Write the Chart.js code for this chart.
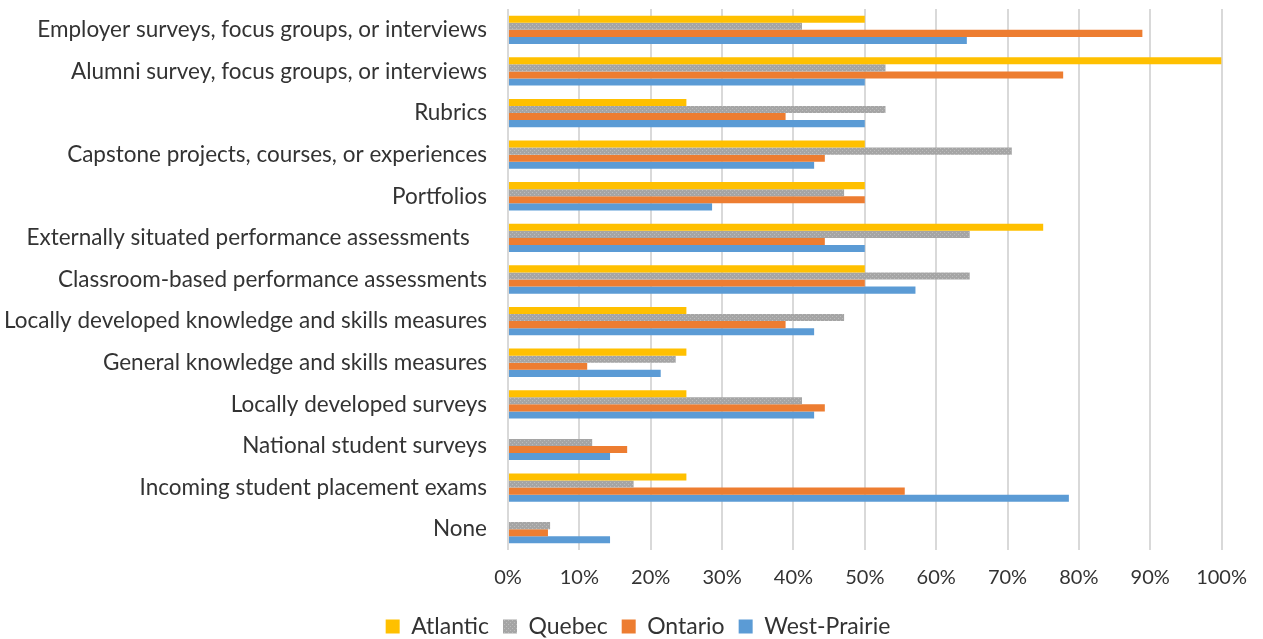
<!DOCTYPE html>
<html>
<head>
<meta charset="utf-8">
<script src="https://cdn.jsdelivr.net/npm/chart.js@4"></script>
<style>
  body { margin: 0; background: #fff; }
  #wrap { width: 1263px; height: 639px; }
</style>
</head>
<body>
<div id="wrap"><canvas id="myChart"></canvas></div>
<script>
const labels = [
  'Employer surveys, focus groups, or interviews',
  'Alumni survey, focus groups, or interviews',
  'Rubrics',
  'Capstone projects, courses, or experiences',
  'Portfolios',
  'Externally situated performance assessments   ',
  'Classroom-based performance assessments',
  'Locally developed knowledge and skills measures',
  'General knowledge and skills measures',
  'Locally developed surveys',
  'National student surveys',
  'Incoming student placement exams',
  'None',
];

const atlantic    = [50, 100, 25, 50, 50, 75, 50, 25, 25, 25, 0, 25, 0];
const quebec      = [41.2, 52.9, 52.9, 70.6, 47.1, 64.7, 64.7, 47.1, 23.5, 41.2, 11.8, 17.6, 5.9];
const ontario     = [88.9, 77.8, 38.9, 44.4, 50, 44.4, 50, 38.9, 11.1, 44.4, 16.7, 55.6, 5.6];
const westPrairie = [64.3, 50, 50, 42.9, 28.6, 50, 57.1, 42.9, 21.4, 42.9, 14.3, 78.6, 14.3];

const fontFamily = "Lato, 'Liberation Sans', sans-serif";
const textColor = '#333333';

// light dotted texture like the grey series in the original
function dotPattern() {
  const c = document.createElement('canvas');
  c.width = 4; c.height = 4;
  const ctx = c.getContext('2d');
  ctx.fillStyle = '#A5A5A5';
  ctx.fillRect(0, 0, 4, 4);
  ctx.fillStyle = '#BDBDBD';
  ctx.fillRect(0, 0, 1, 1);
  ctx.fillRect(2, 2, 1, 1);
  return ctx.createPattern(c, 'repeat');
}

const data = {
  labels: labels,
  datasets: [
    { label: 'Atlantic', data: atlantic, backgroundColor: '#FFC000' },
    { label: 'Quebec', data: quebec, backgroundColor: dotPattern() },
    { label: 'Ontario', data: ontario, backgroundColor: '#ED7D31' },
    { label: 'West-Prairie', data: westPrairie, backgroundColor: '#5B9BD5' },
  ]
};

// nudge the legend so it sits centred under the whole picture
const legendShift = {
  id: 'legendShift',
  afterLayout(chart) {
    const lg = chart.legend;
    lg.left += 25;
    lg.right += 25;
  }
};

const config = {
  type: 'bar',
  data: data,
  options: {
    indexAxis: 'y',
    responsive: true,
    maintainAspectRatio: false,
    animation: false,
    datasets: {
      bar: { barPercentage: 1.0, categoryPercentage: 0.68 }
    },
    layout: { padding: { top: 9, right: 41, left: 4, bottom: -9 } },
    scales: {
      x: {
        min: 0,
        max: 100,
        afterFit: (axis) => { axis.height = 51; },
        ticks: {
          stepSize: 10,
          color: textColor,
          padding: 16,
          font: { family: fontFamily, size: 20 },
          callback: (v) => v + '%'
        },
        grid: { color: '#D9D9D9', lineWidth: 2, drawTicks: false },
        border: { display: false }
      },
      y: {
        afterFit: (axis) => {
          axis.width = 504;
          axis.paddingTop = 0;
          axis.paddingBottom = 0;
        },
        ticks: {
          color: textColor,
          padding: 21,
          font: { family: fontFamily, size: 22.5 }
        },
        grid: { display: false, drawTicks: false },
        border: { display: false }
      }
    },
    plugins: {
      legend: {
        position: 'bottom',
        labels: {
          color: textColor,
          boxWidth: 14,
          boxHeight: 14,
          padding: 14,
          font: { family: fontFamily, size: 23 }
        }
      },
      tooltip: { enabled: false }
    }
  },
  plugins: [legendShift]
};

const myChart = new Chart(document.getElementById('myChart'), config);
</script>
</body>
</html>
